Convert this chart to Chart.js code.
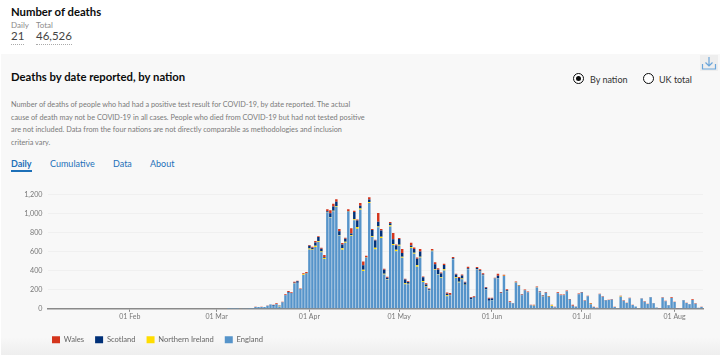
<!DOCTYPE html>
<html><head><meta charset="utf-8">
<script src="https://cdn.jsdelivr.net/npm/chart.js@4/dist/chart.umd.min.js"></script>
<style>
html,body{margin:0;padding:0;background:#fff;width:720px;height:355px;overflow:hidden}
body{font-family:"Lato",sans-serif;position:relative;color:#0b0c0c;filter:blur(0.35px)}
.t{position:absolute;white-space:nowrap;line-height:1}
#panel{position:absolute;left:1px;top:54px;width:719px;height:301px;background:linear-gradient(#f8f8f8 0,#f8f8f8 94%,#eeeeee 100%)}
.p{font-size:7.3px;color:#7a7a7a;left:11px}
.tab{font-size:9px;color:#1d70b8;top:159px}
.radio{position:absolute;width:9px;height:9px;border:1.5px solid #0b0c0c;border-radius:50%;top:73px;background:#fff}
.radio i{position:absolute;left:2px;top:2px;width:5px;height:5px;border-radius:50%;background:#0b0c0c}
#wrap{position:absolute;left:0;top:185px;width:720px;height:170px}
</style></head><body>
<div id="panel"></div>
<div class="t" style="left:11px;top:6px;font-size:11.3px;font-weight:700">Number of deaths</div>
<div class="t" style="left:11px;top:21px;font-size:8px;color:#8a8a8a">Daily</div>
<div class="t" style="left:36px;top:21px;font-size:8px;color:#8a8a8a">Total</div>
<div class="t" style="left:11px;top:30px;font-size:11.5px;color:#444;border-bottom:1px dotted #aaa;padding-bottom:2px">21</div>
<div class="t" style="left:36px;top:30px;font-size:11.5px;color:#444;border-bottom:1px dotted #aaa;padding-bottom:2px">46,526</div>
<div class="t" style="left:11px;top:71px;font-size:11.3px;font-weight:700">Deaths by date reported, by nation</div>
<div class="t p" style="top:101px">Number of deaths of people who had had a positive test result for COVID-19, by date reported. The actual</div>
<div class="t p" style="top:114px">cause of death may not be COVID-19 in all cases. People who died from COVID-19 but had not tested positive</div>
<div class="t p" style="top:126px">are not included. Data from the four nations are not directly comparable as methodologies and inclusion</div>
<div class="t p" style="top:139px">criteria vary.</div>
<div class="t tab" style="left:11px;font-weight:700;border-bottom:2px solid #1d70b8;padding-bottom:2px">Daily</div>
<div class="t tab" style="left:50px">Cumulative</div>
<div class="t tab" style="left:113px">Data</div>
<div class="t tab" style="left:150px">About</div>
<div class="radio" style="left:573px"><i></i></div>
<div class="t" style="left:590px;top:75px;font-size:9px;color:#333">By nation</div>
<div class="radio" style="left:643px"></div>
<div class="t" style="left:659px;top:75px;font-size:9px;color:#333">UK total</div>
<svg style="position:absolute;left:700px;top:55px" width="18" height="16" viewBox="0 0 18 16"><rect width="18" height="16" fill="#eeeeee"/><path d="M2.5 9v5h13V9M9 2v9M5.5 7.5L9 11l3.5-3.5" fill="none" stroke="#6aa5da" stroke-width="1.2"/></svg>
<div id="wrap"><canvas id="c" width="720" height="170"></canvas></div>
<script>
const monthNames = ["Jan","Feb","Mar","Apr","May","Jun","Jul","Aug"];
const monthLengths = [31,29,31,30,31,30,31,31];
const yTicks = [0,200,400,600,800,1000,1200];
const england = [
 0,0,0,0,0,0,0,0,0,0,0,0,0,0,0,0,0,0,0,0,0,0,0,0,0,0,0,
 0,0,0,0,0,0,0,0,0,0,0,0,0,0,0,0,0,0,0,0,0,0,0,0,0,0,0,0,0,
 0,0,0,0,1,1,1,1,0,3,2,1,1,
 20,18,20,18,32,43,33,48,24,67,142,168,160,266,273,202,354,368,
 622,617,650,701,594,523,1011,959,1025,1072,769,621,693,1018,763,930,840,1040,396,536,1110,754,626,855,744,359,308,863,669,604,
 661,535,259,258,639,579,441,539,282,228,192,603,411,360,325,402,133,143,520,324,275,309,251,416,99,115,412,388,351,205,84,
 90,317,320,163,344,185,69,56,274,240,141,191,173,36,33,223,175,130,165,125,30,15,164,141,143,182,95,32,21,153,
 169,84,132,48,18,9,153,127,88,92,98,19,7,127,85,61,111,40,24,6,107,74,51,122,58,13,2,117,80,38,114,
 72,2,3,89,62,49,93,54,10,20];
const northernIreland = [
 0,0,0,0,0,0,0,0,0,0,0,0,0,0,0,0,0,0,0,0,0,0,0,0,0,0,0,
 0,0,0,0,0,0,0,0,0,0,0,0,0,0,0,0,0,0,0,0,0,0,0,0,0,0,0,0,0,
 0,0,0,0,0,0,0,0,0,0,0,0,0,
 0,0,0,0,0,0,0,0,6,0,1,1,0,1,1,1,8,2,
 10,5,12,7,7,10,3,5,4,8,5,15,12,3,8,10,18,12,15,3,12,8,15,10,12,10,6,15,12,15,
 12,12,8,4,10,10,15,8,10,6,2,6,8,5,10,12,10,2,4,6,8,10,2,3,2,2,2,3,3,3,1,
 2,2,3,1,2,2,1,0,2,1,1,1,0,0,1,2,1,1,1,1,8,0,0,1,0,0,1,0,0,1,
 0,0,0,4,0,0,0,0,0,0,0,0,0,6,0,0,0,0,0,0,0,0,0,0,0,0,0,0,0,0,0,
 0,0,0,0,0,0,0,0,0,0];
const scotland = [
 0,0,0,0,0,0,0,0,0,0,0,0,0,0,0,0,0,0,0,0,0,0,0,0,0,0,0,
 0,0,0,0,0,0,0,0,0,0,0,0,0,0,0,0,0,0,0,0,0,0,0,0,0,0,0,0,0,
 0,0,0,0,0,0,0,0,0,0,0,0,0,
 0,0,0,0,1,1,8,3,1,3,3,7,6,7,14,5,2,6,
 30,20,35,45,30,8,10,40,45,45,40,40,30,6,20,75,70,30,45,3,25,65,75,50,65,40,12,20,50,45,
 60,40,40,20,15,40,70,55,40,20,10,3,50,45,35,45,15,3,6,30,40,30,22,8,15,4,15,15,6,12,20,
 15,2,25,5,2,8,0,1,3,3,5,2,2,0,0,2,2,5,2,2,0,0,1,1,1,1,1,0,0,0,
 1,0,1,0,0,0,0,0,1,1,0,0,0,0,0,0,0,0,0,0,0,0,0,0,0,0,0,0,0,0,0,
 0,0,0,0,0,0,0,0,0,0];
const wales = [
 0,0,0,0,0,0,0,0,0,0,0,0,0,0,0,0,0,0,0,0,0,0,0,0,0,0,0,
 0,0,0,0,0,0,0,0,0,0,0,0,0,0,0,0,0,0,0,0,0,0,0,0,0,0,0,0,0,
 0,0,0,0,0,0,0,0,0,0,0,0,0,
 1,0,1,0,2,2,1,6,4,4,6,12,7,9,6,4,8,10,
 7,9,15,8,10,25,20,30,30,25,25,14,12,17,55,15,10,30,40,14,25,12,10,90,18,12,10,12,65,12,
 10,40,8,8,30,15,12,25,8,15,8,15,20,15,12,15,12,18,15,8,10,12,8,15,8,10,10,8,12,10,12,
 10,5,20,8,10,10,8,3,8,7,5,8,6,6,8,7,6,6,5,7,4,6,8,6,5,8,6,10,4,6,
 7,5,5,8,3,2,6,4,3,3,5,2,0,5,4,3,6,2,1,1,3,4,2,2,2,1,5,3,5,1,6,
 2,5,1,3,2,1,6,3,1,1];

const categories = [];
monthNames.forEach((m,mi)=>{
  for(let d=1;d<=monthLengths[mi];d++){
    if(mi===0&&d<5) continue;
    if(mi===7&&d>10) continue;
    categories.push(String(d).padStart(2,"0")+" "+m);
  }
});
const nudgeLegend = {id:"nudgeLegend",afterLayout(c){c.legend.left=41;}};
const barOpts = {categoryPercentage:1,barPercentage:0.82,borderWidth:0};
new Chart(document.getElementById("c"),{
  type:"bar",
  plugins:[nudgeLegend],
  data:{labels:categories,datasets:[
    {label:"England",data:england,backgroundColor:"#5694ca",...barOpts},
    {label:"Northern Ireland",data:northernIreland,backgroundColor:"#ffdd00",...barOpts},
    {label:"Scotland",data:scotland,backgroundColor:"#003078",...barOpts},
    {label:"Wales",data:wales,backgroundColor:"#d4351c",...barOpts}
  ]},
  options:{
    responsive:false,animation:false,
    layout:{padding:{top:9.5,right:17,bottom:1.5,left:0}},
    scales:{
      x:{stacked:true,offset:true,
        afterFit(s){s.height=16.1;},
        border:{color:"#8a8a8a",width:1.5},
        grid:{offset:false,drawOnChartArea:false,drawTicks:true,tickLength:3,
          tickColor:ctx=>(ctx.tick&&ctx.tick.label)?"#8a8a8a":"rgba(0,0,0,0)"},
        ticks:{autoSkip:false,maxRotation:0,minRotation:0,padding:1,color:"#777",font:{family:"Lato",size:7},
          callback(v){const l=this.getLabelForValue(v);return l.startsWith("01 ")?l:"";}}
      },
      y:{stacked:true,min:0,max:1200,
        afterFit(s){s.width=47.5;},
        afterBuildTicks(s){s.ticks=yTicks.map(v=>({value:v}));},
        border:{display:false},
        grid:{color:"#f0f0f0",drawTicks:false},
        ticks:{padding:5,color:"#777",font:{family:"Lato",size:7.2}}
      }
    },
    plugins:{
      tooltip:{enabled:false},
      legend:{position:"bottom",align:"start",reverse:true,
        labels:{boxWidth:8,boxHeight:7,padding:11,color:"#666",font:{family:"Lato",size:7.6}}}
    }
  }
});
</script>
</body></html>
